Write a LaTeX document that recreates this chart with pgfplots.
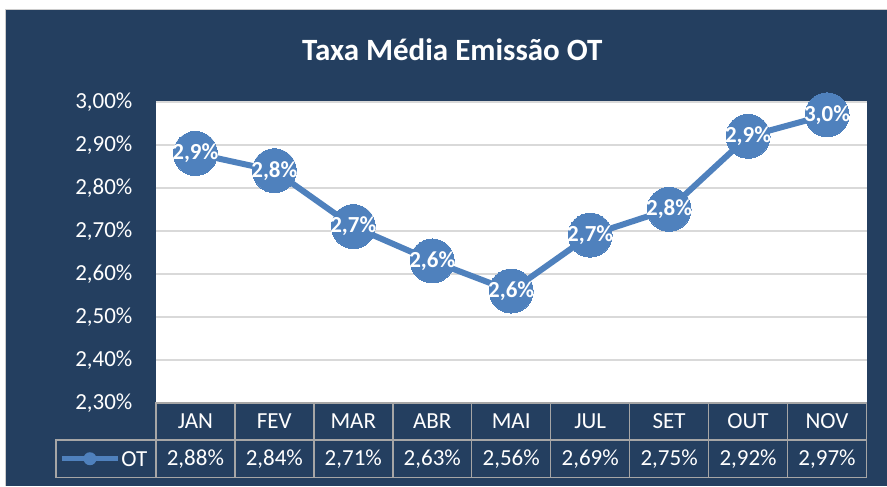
\documentclass[border=0pt]{standalone}
\usepackage{pgfplots}
\pgfplotsset{compat=1.18}
\usepackage{fontspec}
\setmainfont{Carlito}
\definecolor{navy}{HTML}{243F60}
\definecolor{serie}{HTML}{4F81BD}
\definecolor{gridc}{HTML}{D9D9D9}
\definecolor{tabline}{HTML}{A6A6A6}
\begin{document}
\begin{tikzpicture}[x=1pt,y=1pt]
\fill[white] (0,0) rectangle (887,486);
\fill[navy] (6,0) rectangle (887,476);
\draw[gray!40, line width=1pt] (5.5,0) -- (5.5,476.5) -- (887,476.5);
\node[text=white, font=\fontsize{31}{36}\selectfont\bfseries] at (452.5,436) {Taxa Média Emissão OT};
\begin{axis}[
  at={(156pt,83pt)}, anchor=south west,
  scale only axis, width=711pt, height=301pt,
  xmin=-0.5, xmax=8.5, ymin=2.30, ymax=3.00,
  ytick={2.3,2.4,2.5,2.6,2.7,2.8,2.9,3.0},
  xtick={0,...,8},
  xticklabels={JAN,FEV,MAR,ABR,MAI,JUL,SET,OUT,NOV},
  xticklabel style={anchor=center, yshift=-18.5pt, text=white, font=\fontsize{23}{27}\selectfont},
  yticklabel={\pgfmathprintnumber[fixed,fixed zerofill,precision=2,use comma]{\tick}\%},
  yticklabel style={anchor=east, xshift=-20pt, text=white, font=\fontsize{23}{27}\selectfont},
  /pgf/number format/assume math mode=true,
  major tick length=0pt,
  axis line style={draw=none},
  axis background/.style={fill=white},
  ymajorgrids, grid style={gridc, line width=1.5pt},
  clip=false,
]
\addplot[color=serie, line width=6pt, mark=*, mark size=22pt,
  mark options={fill=serie, draw=serie, line width=0pt},
  nodes near coords, point meta=explicit symbolic,
  every node near coord/.append style={anchor=center, text=white,
    font=\fontsize{23}{27}\selectfont\bfseries, inner sep=0pt}]
coordinates {
(0,2.88) [2,9\%]
(1,2.84) [2,8\%]
(2,2.71) [2,7\%]
(3,2.63) [2,6\%]
(4,2.56) [2,6\%]
(5,2.69) [2,7\%]
(6,2.75) [2,8\%]
(7,2.92) [2,9\%]
(8,2.97) [3,0\%]
};
\end{axis}
% table grid
\begin{scope}[tabline, line width=1.5pt]
\draw (156,83) rectangle (867,8);
\draw (56,46) -- (867,46);
\draw (56,46) rectangle (156,8);
\foreach \i in {1,...,8} {\draw (156+79*\i,83) -- (156+79*\i,8);}
\end{scope}
\foreach \v [count=\i from 0] in {{2,88\%},{2,84\%},{2,71\%},{2,63\%},{2,56\%},{2,69\%},{2,75\%},{2,92\%},{2,97\%}}
  {\node[text=white, font=\fontsize{23}{27}\selectfont] at (195.5+79*\i,27) {\v};}
\draw[serie, line width=5pt] (62,27) -- (118,27);
\fill[serie] (90,27) circle (6.5);
\node[text=white, font=\fontsize{23}{27}\selectfont, anchor=west] at (118,27) {OT};
\end{tikzpicture}
\end{document}
